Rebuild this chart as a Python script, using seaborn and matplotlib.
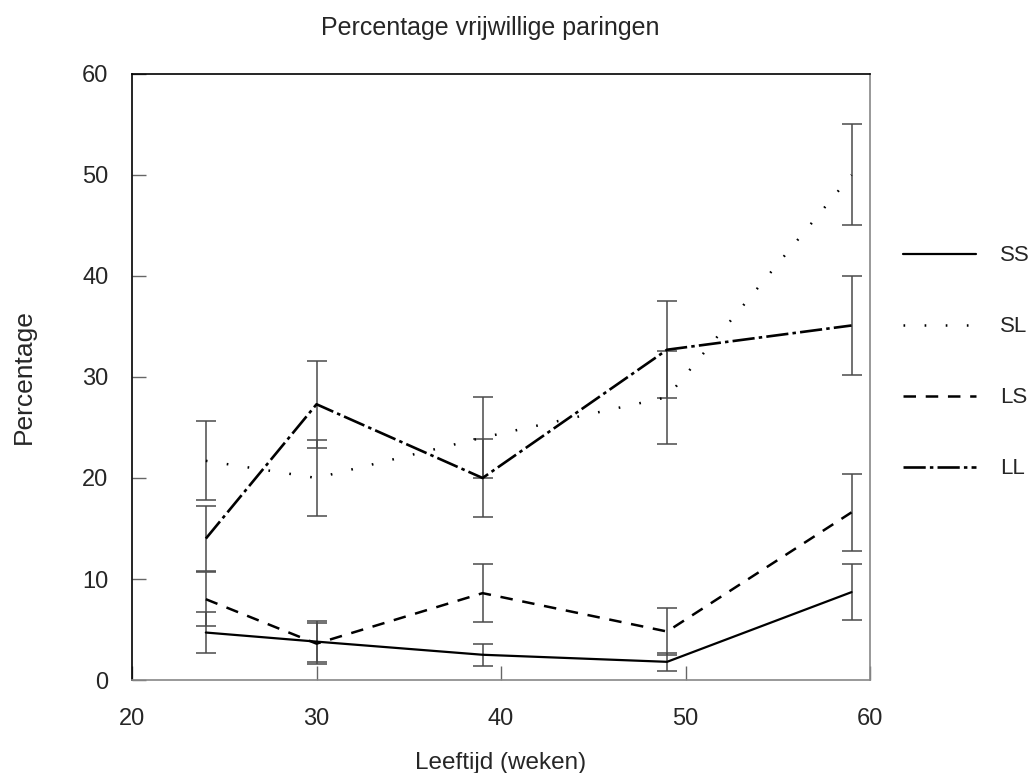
import matplotlib
matplotlib.use("Agg")
import matplotlib.pyplot as plt
import seaborn as sns
import pandas as pd

weeks = [24, 30, 39, 49, 59]
groups = ["SS", "SL", "LS", "LL"]
ss_vals = [4.7, 3.8, 2.5, 1.8, 8.7]
ss_err = [2.0, 2.0, 1.1, 0.9, 2.8]
sl_vals = [21.7, 20.0, 24.0, 28.0, 50.0]
sl_err = [3.9, 3.8, 4.0, 4.6, 5.0]
ls_vals = [8.0, 3.6, 8.6, 4.8, 16.6]
ls_err = [2.7, 2.0, 2.9, 2.3, 3.8]
ll_vals = [14.0, 27.3, 20.0, 32.7, 35.1]
ll_err = [3.2, 4.3, 3.9, 4.8, 4.9]

values = {"SS": ss_vals, "SL": sl_vals, "LS": ls_vals, "LL": ll_vals}
errors = {"SS": ss_err, "SL": sl_err, "LS": ls_err, "LL": ll_err}

sns.set_theme(style="white")
plt.rcParams["font.family"] = ["Liberation Sans", "DejaVu Sans"]
plt.rcParams["lines.scale_dashes"] = False

styles = {
    "SS": dict(linestyle="-", linewidth=1.6),
    "SL": dict(linestyle=(0, (1.2, 14)), linewidth=1.8),
    "LS": dict(linestyle=(0, (9, 7)), linewidth=1.8),
    "LL": dict(linestyle=(0, (16, 3, 2.5, 3)), linewidth=1.9),
}

rows = []
for g in groups:
    for w, v, e in zip(weeks, values[g], errors[g]):
        rows.append({"week": w, "pct": v, "err": e, "group": g})
df = pd.DataFrame(rows)

fig = plt.figure(figsize=(10.34, 7.73), dpi=100)
ax = fig.add_axes([0.1277, 0.1203, 0.8414 - 0.1277, 0.9043 - 0.1203])

for g in groups:
    sub = df[df["group"] == g]
    ax.errorbar(sub["week"], sub["pct"], yerr=sub["err"], fmt="none",
                ecolor="#4a4a4a", elinewidth=1.1, capsize=7, capthick=1.1, zorder=2)
    sns.lineplot(data=sub, x="week", y="pct", ax=ax, color="black",
                 label=g, zorder=3, **styles[g])

ax.set_xlim(20, 60)
ax.set_ylim(0, 60)
ax.set_xticks([20, 30, 40, 50, 60])
ax.set_yticks([0, 10, 20, 30, 40, 50, 60])
ax.tick_params(direction="in", length=10, width=1, color="#666666",
               labelsize=17, left=True, bottom=True)
ax.tick_params(axis="x", pad=20)
ax.tick_params(axis="y", pad=17)
for side in ["left", "top"]:
    ax.spines[side].set_color("black")
    ax.spines[side].set_linewidth(1.2)
for side in ["right", "bottom"]:
    ax.spines[side].set_color("#888888")
    ax.spines[side].set_linewidth(1.2)

ax.set_xlabel("Leeftijd (weken)", fontsize=17.5, labelpad=16)
ax.set_ylabel("Percentage", fontsize=19, labelpad=33)
ax.set_title("Percentage vrijwillige paringen", fontsize=18, pad=28, x=0.485)

leg = ax.legend(loc="upper left", bbox_to_anchor=(1.017, 0.75), frameon=False,
                fontsize=16, handlelength=3.3, labelspacing=2.25, handletextpad=1.1,
                borderaxespad=0.5)

fig.savefig("out.png", dpi=100)
